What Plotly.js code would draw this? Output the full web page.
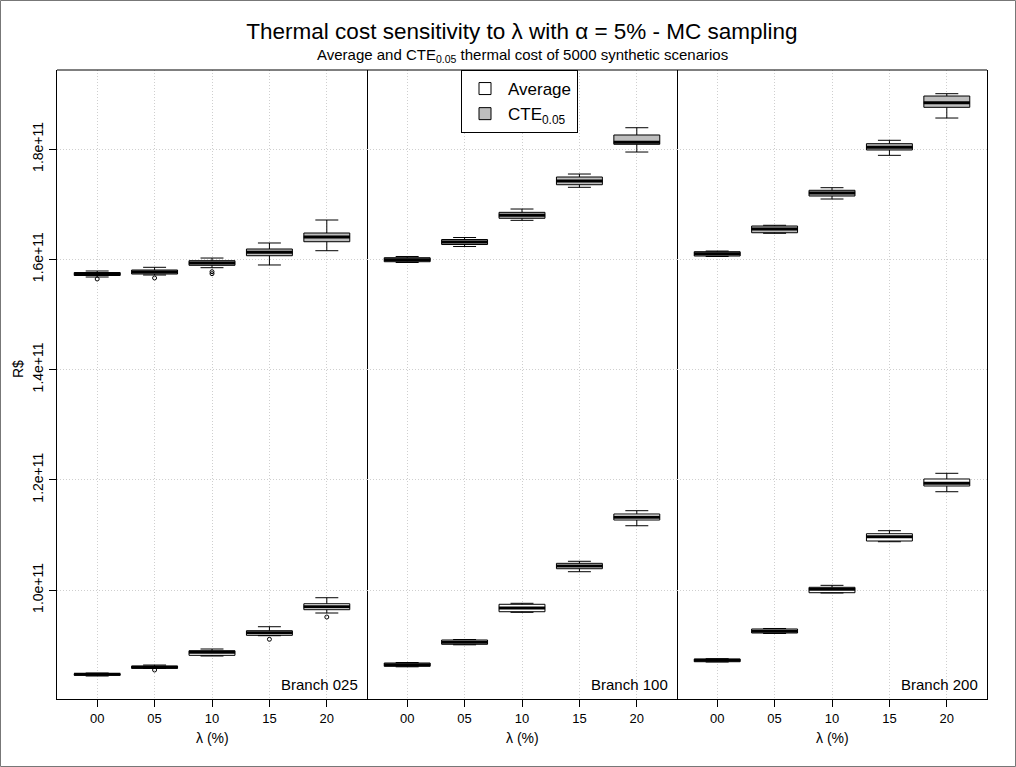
<!DOCTYPE html>
<html>
<head>
<meta charset="utf-8">
<script src="https://cdn.plot.ly/plotly-3.0.1.min.js"></script>
<style>html,body{margin:0;padding:0;background:#fff;}#chart{width:1016px;height:767px;}</style>
</head>
<body>
<div id="chart"></div>
<script>
// ---- data (thermal cost, R$ billions) ----
const categories = ['00', '05', '10', '15', '20'];
const branches = ['Branch 025', 'Branch 100', 'Branch 200'];
const UNIT = 1e9;

const avgLower  = [[84.40, 85.76, 88.03, 91.71, 95.83], [86.07, 90.06, 95.95, 103.32, 111.66], [86.94, 92.11, 99.46, 108.76, 117.83]];
const avgQ1     = [[84.53, 85.80, 88.15, 91.78, 96.43], [86.16, 90.15, 96.06, 103.86, 112.70], [86.99, 92.20, 99.51, 108.89, 118.87]];
const avgMedian = [[84.71, 85.98, 88.70, 92.25, 96.97], [86.45, 90.51, 96.73, 104.35, 113.19], [87.25, 92.51, 100.13, 109.67, 119.36]];
const avgQ3     = [[84.82, 86.21, 88.99, 92.62, 97.51], [86.76, 90.93, 97.41, 104.84, 113.79], [87.48, 92.93, 100.49, 110.21, 120.14]];
const avgUpper  = [[84.94, 86.39, 89.30, 93.34, 98.60], [86.85, 91.02, 97.59, 105.21, 114.39], [87.54, 93.02, 100.85, 110.76, 121.17]];

const cteLower  = [[156.78, 157.14, 158.47, 158.96, 161.55], [159.41, 162.31, 167.06, 173.05, 179.45], [160.50, 164.71, 170.93, 178.85, 185.62]];
const cteQ1     = [[157.05, 157.32, 158.90, 160.64, 163.18], [159.55, 162.67, 167.43, 173.52, 180.85], [160.59, 164.81, 171.47, 179.82, 187.56]];
const cteMedian = [[157.32, 157.69, 159.32, 161.26, 164.03], [159.92, 163.13, 167.97, 174.19, 181.21], [161.00, 165.49, 172.02, 180.31, 188.40]];
const cteQ3     = [[157.59, 158.05, 159.74, 161.86, 164.76], [160.28, 163.58, 168.51, 174.92, 182.54], [161.37, 166.03, 172.51, 180.96, 189.61]];
const cteUpper  = [[157.87, 158.54, 160.22, 162.95, 167.12], [160.50, 163.94, 169.11, 175.46, 183.86], [161.49, 166.16, 172.98, 181.58, 190.03]];

const avgOutCat = [['05', '15', '20'], [], []];
const avgOutVal = [[85.49, 91.06, 95.10], [], []];
const cteOutCat = [['00', '05', '10', '10'], [], []];
const cteOutVal = [[156.42, 156.60, 157.74, 157.38], [], []];

const yTickVals = [100, 120, 140, 160, 180];
const yTickText = ['1.0e+11', '1.2e+11', '1.4e+11', '1.6e+11', '1.8e+11'];

// ---- build ----
const FONT = 'Liberation Sans, Arial, Helvetica, sans-serif';
const sc = a => a.map(v => v * UNIT);
const traces = [];
branches.forEach((b, i) => {
  const xa = i === 0 ? 'x' : 'x' + (i + 1);
  const ya = i === 0 ? 'y' : 'y' + (i + 1);
  const boxCommon = {
    type: 'box', x: categories, xaxis: xa, yaxis: ya,
    width: 0.8, whiskerwidth: 0.5, boxpoints: false,
    line: { color: '#000', width: 1 }, hoverinfo: 'skip'
  };
  traces.push(Object.assign({}, boxCommon, {
    name: 'Average', legendgroup: 'avg', showlegend: i === 0,
    q1: sc(avgQ1[i]), median: sc(avgMedian[i]), q3: sc(avgQ3[i]),
    lowerfence: sc(avgLower[i]), upperfence: sc(avgUpper[i]),
    fillcolor: '#ffffff'
  }));
  traces.push(Object.assign({}, boxCommon, {
    name: 'CTE<sub>0.05</sub>', legendgroup: 'cte', showlegend: i === 0,
    q1: sc(cteQ1[i]), median: sc(cteMedian[i]), q3: sc(cteQ3[i]),
    lowerfence: sc(cteLower[i]), upperfence: sc(cteUpper[i]),
    fillcolor: '#bebebe'
  }));
  // thick median bars
  traces.push({
    type: 'scatter', mode: 'markers', xaxis: xa, yaxis: ya, showlegend: false, hoverinfo: 'skip',
    x: categories.concat(categories),
    y: sc(avgMedian[i].concat(cteMedian[i])),
    marker: { symbol: 'line-ew', size: 33, color: '#000', line: { color: '#000', width: 3 } }
  });
  // outliers
  traces.push({
    type: 'scatter', mode: 'markers', xaxis: xa, yaxis: ya, showlegend: false, hoverinfo: 'skip',
    x: avgOutCat[i].concat(cteOutCat[i]),
    y: sc(avgOutVal[i].concat(cteOutVal[i])),
    marker: { symbol: 'circle-open', size: 4, color: '#000', line: { color: '#000', width: 1 } }
  });
});

const yRange = [80.23 * UNIT, 194.33 * UNIT];
const GRID = { showgrid: true, gridcolor: '#cfcfcf', griddash: '1px,2px', gridwidth: 1 };
const xBase = Object.assign({
  type: 'category', categoryorder: 'array', categoryarray: categories,
  range: [-0.7, 4.7], showline: true, mirror: false, linecolor: '#000', linewidth: 1,
  ticks: 'outside', ticklen: 7, tickcolor: '#000', tickfont: { size: 13, color: '#000' },
  zeroline: false, fixedrange: true
}, GRID);
const yBase = Object.assign({
  range: yRange, tickvals: sc(yTickVals), ticktext: yTickText,
  showline: true, linecolor: '#000', linewidth: 1,
  zeroline: false, fixedrange: true
}, GRID);

const annotations = [];
branches.forEach((b, i) => {
  const xd = (i === 0 ? 'x' : 'x' + (i + 1)) + ' domain';
  annotations.push({ text: b, xref: xd, x: 1, xanchor: 'right', xshift: -7, yref: 'paper', y: 15 / 629, yanchor: 'middle', showarrow: false, font: { size: 15, color: '#000' } });
  annotations.push({ text: 'λ (%)', xref: xd, x: 0.5, xanchor: 'center', yref: 'paper', y: -39 / 629, yanchor: 'middle', showarrow: false, font: { size: 14, color: '#000' } });
});
annotations.push({ text: 'R$', textangle: -90, xref: 'paper', x: -39 / 930, xanchor: 'center', yref: 'paper', y: 330 / 629, yanchor: 'middle', showarrow: false, font: { size: 14, color: '#000' } });
annotations.push({ text: 'Average and CTE<sub>0.05</sub> thermal cost of 5000 synthetic scenarios', xref: 'paper', x: 0.5, xanchor: 'center', yref: 'paper', y: (699 - 56) / 629, yanchor: 'middle', showarrow: false, font: { size: 15, color: '#000' } });

const layout = {
  width: 1016, height: 767,
  margin: { l: 57, r: 29, t: 70, b: 68 },
  paper_bgcolor: '#fff', plot_bgcolor: '#fff',
  font: { family: FONT, color: '#000' },
  title: { text: 'Thermal cost sensitivity to λ with α = 5% - MC sampling', font: { size: 22.5, color: '#000' }, x: 0.5, xref: 'paper', xanchor: 'center', y: 1 - 31 / 767, yanchor: 'middle' },
  xaxis: Object.assign({}, xBase, { domain: [0, 1 / 3], anchor: 'y' }),
  xaxis2: Object.assign({}, xBase, { domain: [1 / 3, 2 / 3], anchor: 'y2' }),
  xaxis3: Object.assign({}, xBase, { domain: [2 / 3, 1], anchor: 'y3' }),
  yaxis: Object.assign({}, yBase, { anchor: 'x', side: 'left', mirror: true, ticks: 'outside', ticklen: 7, tickcolor: '#000', tickangle: -90, tickfont: { size: 14, color: '#000' } }),
  yaxis2: Object.assign({}, yBase, { anchor: 'x2', side: 'right', mirror: false, matches: 'y', showticklabels: false, ticks: '' }),
  yaxis3: Object.assign({}, yBase, { anchor: 'x3', side: 'right', mirror: false, matches: 'y', showticklabels: false, ticks: '' }),
  showlegend: true,
  legend: { x: (461 - 57) / 930, xanchor: 'left', y: 1, yanchor: 'top', bgcolor: '#fff', bordercolor: '#000', borderwidth: 1, font: { size: 17, color: '#000' }, traceorder: 'normal', tracegroupgap: 0, itemwidth: 36 },
  annotations: annotations,
  shapes: [
    { type: 'line', xref: 'paper', yref: 'paper', x0: 0, x1: 1, y0: 1, y1: 1, line: { color: '#000', width: 1 }, layer: 'above' },
    { type: 'rect', xref: 'paper', yref: 'paper', x0: -56.5 / 930, x1: 958.5 / 930, y0: -67.5 / 629, y1: 698.5 / 629, line: { color: '#777', width: 1 }, fillcolor: 'rgba(0,0,0,0)', layer: 'above' }
  ]
};

Plotly.newPlot('chart', traces, layout, { displayModeBar: false, staticPlot: true });
</script>
</body>
</html>
